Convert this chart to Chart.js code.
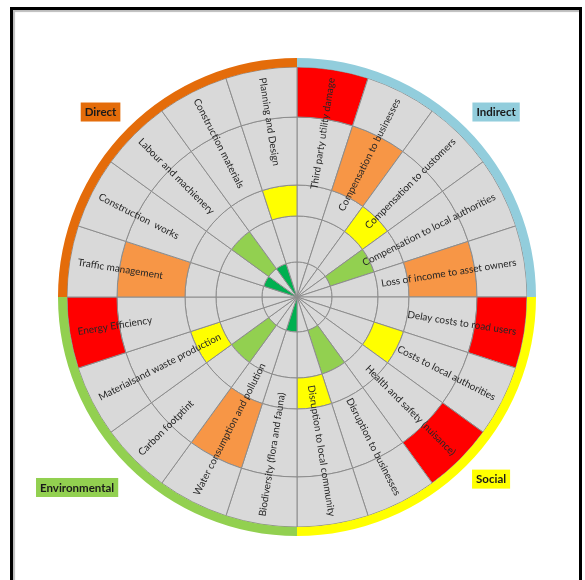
<!DOCTYPE html>
<html>
<head>
<meta charset="utf-8">
<script src="https://cdn.jsdelivr.net/npm/chart.js@4.4.0/dist/chart.umd.min.js"></script>
<style>
  html, body { margin: 0; padding: 0; background: #fff; }
  #frame { position: absolute; left: 10px; top: 7px; width: 566px; height: 580px;
           border: 3px solid #000; border-bottom: none; box-shadow: inset 2px 2px 1px #bdbdbd; }
  #chart { position: absolute; left: 0; top: 0; }
</style>
</head>
<body>
<div id="frame"></div>
<canvas id="chart" width="585" height="580"></canvas>
<script>
  // categories clockwise from 12 o'clock
  const categories = [
    "Third party utility damage", "Compensation to businesses", "Compensation to customers",
    "Compensation to local authorities", "Loss of income to asset owners",
    "Delay costs to road users", "Costs to local authorities", "Health and safety (nuisance)",
    "Disruption to businesses", "Disruption to local community",
    "Biodiversity (flora and fauna)", "Water consumption and pollution", "Carbon footptint",
    "Materialsand waste production", "Energy Efficiency",
    "Traffic management", "Construction  works", "Labour and machienery",
    "Construction materials", "Planning and Design"
  ];
  const groupNames = ["Indirect", "Social", "Environmental", "Direct"];
  const categoryGroup = [0, 0, 0, 0, 0, 1, 1, 1, 1, 1, 2, 2, 2, 2, 2, 3, 3, 3, 3, 3];
  // ring (1 = centre .. 5 = outer) that is coloured for each category
  const riskLevel = [5, 4, 3, 2, 4, 5, 3, 5, 2, 3, 1, 4, 2, 3, 5, 4, 1, 2, 1, 3];

  // styling
  const levelColors = { 1: "#00B050", 2: "#92D050", 3: "#FFFF00", 4: "#F79646", 5: "#FF0000" };
  const groupColors = ["#92CDDC", "#FFFF00", "#92D050", "#E46C0A"];
  const ringWeights = { 1: 35, 2: 46, 3: 31, 4: 68, 5: 50 };
  const bandWeight = 9;
  const cellGrey = "#D9D9D9";
  const lineGrey = "#8C8C8C";
  const groupLabelPos = [[0.833, -0.774], [0.812, 0.762], [-0.92, 0.797], [-0.822, -0.774]];

  const datasets = [{
    data: groupNames.map((g, k) => categoryGroup.filter(x => x === k).length),
    backgroundColor: groupColors,
    borderWidth: 0,
    weight: bandWeight
  }];
  for (let lv = 5; lv >= 1; lv--) {
    datasets.push({
      data: categories.map(() => 1),
      backgroundColor: riskLevel.map(v => (v === lv ? levelColors[lv] : cellGrey)),
      borderColor: lineGrey,
      borderWidth: 1,
      weight: ringWeights[lv]
    });
  }

  const labelPlugin = {
    id: "labels",
    afterDatasetsDraw(chart) {
      const ctx = chart.ctx;
      const arcs = chart.getDatasetMeta(1).data;
      const outer = chart.getDatasetMeta(1).data[0].outerRadius;
      const cx = arcs[0].x, cy = arcs[0].y;

      ctx.save();
      ctx.font = "10px Lato";
      ctx.fillStyle = "#262626";
      ctx.textBaseline = "middle";
      arcs.forEach((arc, i) => {
        const a = (arc.startAngle + arc.endAngle) / 2;
        const r = outer - 8;
        ctx.save();
        ctx.translate(cx, cy);
        if (Math.cos(a) >= 0) {
          ctx.rotate(a);
          ctx.textAlign = "right";
          ctx.fillText(categories[i], r, 0);
        } else {
          ctx.rotate(a + Math.PI);
          ctx.textAlign = "left";
          ctx.fillText(categories[i], -r, 0);
        }
        ctx.restore();
      });

      const R = chart.getDatasetMeta(0).data[0].outerRadius;
      ctx.font = "bold 11.5px Lato";
      ctx.textAlign = "center";
      groupNames.forEach((name, k) => {
        const x = cx + groupLabelPos[k][0] * R;
        const y = cy + groupLabelPos[k][1] * R;
        const w = ctx.measureText(name).width + 8;
        const h = 19;
        ctx.fillStyle = groupColors[k];
        ctx.fillRect(x - w / 2, y - h / 2, w, h);
        ctx.fillStyle = "#1a1a1a";
        ctx.fillText(name, x, y + 0.5);
      });
      ctx.restore();
    }
  };

  const ctx = document.getElementById("chart").getContext("2d");
  const myChart = new Chart(ctx, {
    type: "doughnut",
    data: { labels: categories, datasets: datasets },
    options: {
      responsive: false,
      animation: false,
      events: [],
      cutout: 0,
      layout: { padding: { left: 58, top: 58, right: 49, bottom: 44 } },
      plugins: { legend: { display: false }, tooltip: { enabled: false } }
    },
    plugins: [labelPlugin]
  });
</script>
</body>
</html>
